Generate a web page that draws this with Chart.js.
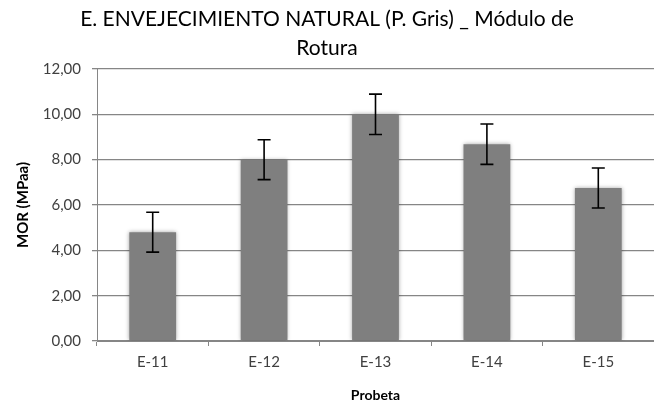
<!DOCTYPE html>
<html>
<head>
<meta charset="utf-8">
<script src="https://cdn.jsdelivr.net/npm/chart.js@4"></script>
<style>
  html, body { margin: 0; padding: 0; background: #ffffff; }
  #wrap { width: 654px; height: 404px; }
</style>
</head>
<body>
<div id="wrap"><canvas id="c" width="654" height="404"></canvas></div>
<script>
// Probetas ensayadas y su módulo de rotura medio (MPa) con la desviación típica
const categories = ['E-11', 'E-12', 'E-13', 'E-14', 'E-15'];
const morValues = [4.80, 8.00, 10.00, 8.68, 6.75];
const morErrors = [0.88, 0.88, 0.89, 0.89, 0.88];
const yTicks = [0, 2, 4, 6, 8, 10, 12];

const FONT = 'Lato, "Open Sans", sans-serif';

// Sombra suave alrededor de las barras
const barShadow = {
  id: 'barShadow',
  beforeDatasetDraw(chart) {
    const ctx = chart.ctx;
    ctx.save();
    ctx.shadowColor = 'rgba(0,0,0,0.35)';
    ctx.shadowBlur = 4;
    ctx.shadowOffsetX = 0;
    ctx.shadowOffsetY = 0;
  },
  afterDatasetDraw(chart) {
    chart.ctx.restore();
  }
};

// Barras de error (± desviación) dibujadas con la escala Y
const errorBars = {
  id: 'errorBars',
  afterDatasetsDraw(chart) {
    const ctx = chart.ctx;
    const y = chart.scales.y;
    const meta = chart.getDatasetMeta(0);
    ctx.save();
    ctx.strokeStyle = '#000000';
    ctx.lineWidth = 1.6;
    meta.data.forEach((bar, i) => {
      const v = morValues[i], e = morErrors[i];
      const top = y.getPixelForValue(v + e);
      const bot = y.getPixelForValue(v - e);
      const x = bar.x;
      const cap = 6.5;
      ctx.beginPath();
      ctx.moveTo(x, top); ctx.lineTo(x, bot);
      ctx.moveTo(x - cap, top); ctx.lineTo(x + cap, top);
      ctx.moveTo(x - cap, bot); ctx.lineTo(x + cap, bot);
      ctx.stroke();
    });
    ctx.restore();
  }
};

const fmt = v => v.toFixed(2).replace('.', ',');

new Chart(document.getElementById('c'), {
  type: 'bar',
  data: {
    labels: categories,
    datasets: [{
      data: morValues,
      backgroundColor: '#7f7f7f',
      borderWidth: 0,
      categoryPercentage: 0.84,
      barPercentage: 0.5
    }]
  },
  plugins: [barShadow, errorBars],
  options: {
    responsive: false,
    animation: false,
    devicePixelRatio: 1,
    layout: { padding: { left: 0, right: 0, top: 0, bottom: 0 } },
    plugins: {
      legend: { display: false },
      tooltip: { enabled: false },
      title: {
        display: true,
        text: ['E. ENVEJECIMIENTO NATURAL (P. Gris) _ Módulo de', 'Rotura'],
        color: '#000000',
        font: { family: FONT, size: 21, weight: 'normal', lineHeight: 1.38 },
        padding: { top: 5, bottom: 6 }
      }
    },
    scales: {
      x: {
        offset: true,
        grid: {
          display: true,
          offset: true,
          drawOnChartArea: false,
          drawTicks: true,
          tickLength: 5,
          color: '#868686'
        },
        border: { display: true, color: '#868686', width: 1 },
        ticks: {
          color: '#404040',
          font: { family: FONT, size: 15 },
          padding: 7
        },
        title: {
          display: true,
          text: 'Probeta',
          color: '#000000',
          font: { family: FONT, size: 14, weight: 'bold' },
          padding: { top: 3, bottom: 0 }
        },
        afterFit(scale) { scale.height = 63; }
      },
      y: {
        min: 0,
        max: 12,
        afterBuildTicks(scale) {
          scale.ticks = yTicks.map(v => ({ value: v }));
        },
        grid: {
          color: '#868686',
          lineWidth: 1.3,
          drawTicks: true,
          tickLength: 5
        },
        border: { display: true, color: '#868686', width: 1 },
        ticks: {
          color: '#404040',
          font: { family: FONT, size: 15 },
          padding: 11,
          callback: v => fmt(v)
        },
        title: {
          display: true,
          text: 'MOR (MPaa)',
          color: '#000000',
          font: { family: FONT, size: 15, weight: 'bold' },
          padding: { top: 14, bottom: 4 }
        },
        afterFit(scale) { scale.width = 97; }
      }
    }
  }
});
</script>
</body>
</html>
